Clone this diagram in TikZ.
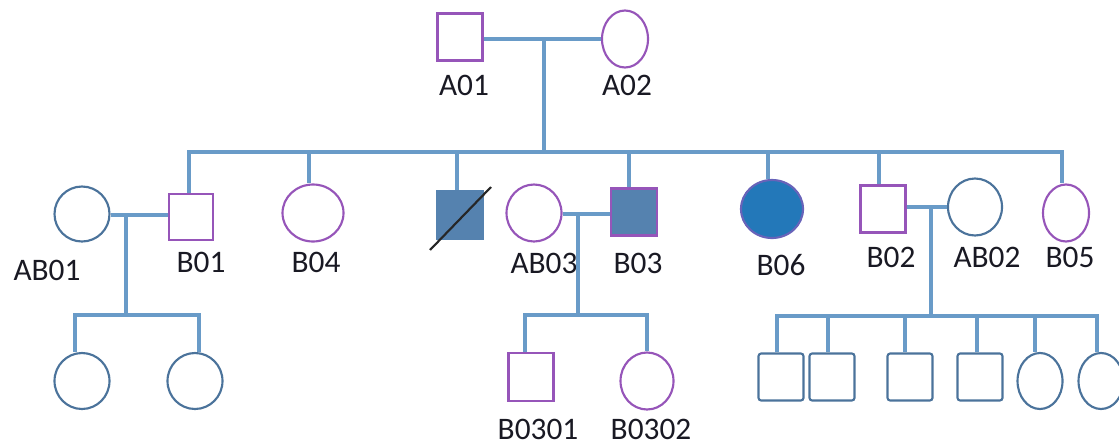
\documentclass[tikz,border=0pt]{standalone}
\usepackage{fontspec}
\setmainfont{Carlito}
\usetikzlibrary{shapes.geometric}
\definecolor{lnc}{RGB}{105,155,200}
\definecolor{pur}{RGB}{150,85,185}
\definecolor{bgr}{RGB}{75,115,155}
\definecolor{dfill}{RGB}{85,130,175}
\definecolor{afill}{RGB}{35,120,185}
\definecolor{txt}{RGB}{25,25,35}
\begin{document}
\begin{tikzpicture}[x=0.75pt,y=-0.75pt,
  ln/.style={draw=lnc,line width=2.3pt},
  sq/.style={draw,rectangle,inner sep=0pt,line width=1.6pt},
  el/.style={draw,ellipse,inner sep=0pt,line width=1.6pt},
  pu/.style={draw=pur},
  bl/.style={draw=bgr},
  lab/.style={text=txt,font=\fontsize{23.5}{27}\selectfont,inner sep=0pt},
  kid/.style={sq,bl,rounded corners=2pt,minimum width=33.75pt,minimum height=35.25pt}]
\useasboundingbox (0,0) rectangle (1119,447);
\clip (0,0) rectangle (1119,447);
% generation I
\node[sq,pu,minimum width=33.75pt,minimum height=35.25pt] (A01) at (460,37) {};
\node[el,pu,minimum width=34.5pt,minimum height=42.75pt] (A02) at (625,39) {};
% generation II
\node[el,bl,minimum width=41.25pt,minimum height=41.25pt] (AB01) at (82,214) {};
\node[sq,pu,minimum width=33pt,minimum height=34.5pt] (B01) at (191,217) {};
\node[el,pu,minimum width=45.75pt,minimum height=42.75pt] (B04) at (313,213) {};
\node[sq,draw=dfill,fill=dfill,minimum width=33.75pt,minimum height=36pt] (D) at (460,215) {};
\node[el,pu,minimum width=41.25pt,minimum height=42.75pt] (AB03) at (534,213) {};
\node[sq,pu,fill=dfill,minimum width=34.5pt,minimum height=35.25pt] (B03) at (634,212) {};
\node[el,draw=pur!60!afill,fill=afill,minimum width=46.5pt,minimum height=43.5pt] (B06) at (772,209) {};
\node[sq,pu,minimum width=33.75pt,minimum height=35.25pt] (B02) at (883,209) {};
\node[el,bl,minimum width=40.5pt,minimum height=42.75pt] (AB02) at (975,207) {};
\node[el,pu,minimum width=34.5pt,minimum height=42.75pt] (B05) at (1066,213) {};
% deceased slash
\coordinate (dsA) at (430,250);
\coordinate (dsB) at (491,187);
\draw[line width=1.6pt,black!85] (dsA) -- (dsB);
% generation III
\node[el,bl,minimum width=41.25pt,minimum height=42pt] (C1) at (82,381) {};
\node[el,bl,minimum width=41.25pt,minimum height=42pt] (C2) at (195,381) {};
\node[sq,pu,minimum width=33.75pt,minimum height=36pt] (B0301) at (531,377) {};
\node[el,pu,minimum width=39.75pt,minimum height=42.75pt] (B0302) at (647,381) {};
\node[kid] (R1) at (781,377) {};
\node[kid] (R2) at (832,377) {};
\node[kid] (R3) at (910,377) {};
\node[kid] (R4) at (980,377) {};
\node[el,bl,minimum width=33.75pt,minimum height=42pt] (R5) at (1040,381) {};
\node[el,bl,minimum width=33.75pt,minimum height=42pt] (R6) at (1101,381) {};
% labels
\node[lab] (lA01) at (464,85) {A01};
\node[lab] (lA02) at (627,85) {A02};
\node[lab] (lAB01) at (47,270) {AB01};
\node[lab] (lB01) at (201,262) {B01};
\node[lab] (lB04) at (316,262) {B04};
\node[lab] (lAB03) at (544,263) {AB03};
\node[lab] (lB03) at (638,263) {B03};
\node[lab] (lB06) at (781,265) {B06};
\node[lab] (lB02) at (891,257) {B02};
\node[lab] (lAB02) at (987,257) {AB02};
\node[lab] (lB05) at (1070,257) {B05};
\node[lab] (lB0301) at (538,429) {B0301};
\node[lab] (lB0302) at (651,429) {B0302};
% connectors: generation I
\coordinate (mA) at (544,39);
\coordinate (sL) at (189,152);
\coordinate (sR) at (1062,152);
\draw[ln] (A01.east |- mA) -- (mA) -- (A02.west |- mA);
\draw[ln] (mA) -- (mA |- sL);
\draw[ln] (sL |- B01.north) -- (sL) -- (sR) -- (sR |- B05.north);
\coordinate (d2) at (309,152);
\coordinate (d3) at (457,152);
\coordinate (d4) at (629,152);
\coordinate (d5) at (768,152);
\coordinate (d6) at (879,152);
\draw[ln] (d2) -- (d2 |- B04.north);
\draw[ln] (d3) -- (d3 |- D.north);
\draw[ln] (d4) -- (d4 |- B03.north);
\draw[ln] (d5) -- (d5 |- B06.north);
\draw[ln] (d6) -- (d6 |- B02.north);
% AB01 x B01
\coordinate (m1) at (126,215);
\coordinate (c1L) at (75,315);
\coordinate (c1R) at (199,315);
\draw[ln] (AB01.east |- m1) -- (B01.west |- m1);
\draw[ln] (m1) -- (m1 |- c1L);
\draw[ln] (c1L |- C1.north) -- (c1L) -- (c1R) -- (c1R |- C2.north);
% AB03 x B03
\coordinate (m3) at (578,214);
\coordinate (c3L) at (525,315);
\coordinate (c3R) at (647,315);
\draw[ln] (AB03.east |- m3) -- (B03.west |- m3);
\draw[ln] (m3) -- (m3 |- c3L);
\draw[ln] (c3L |- B0301.north) -- (c3L) -- (c3R) -- (c3R |- B0302.north);
% B02 x AB02
\coordinate (m2) at (931,207);
\coordinate (c2L) at (777,316);
\coordinate (c2R) at (1097,316);
\draw[ln] (B02.east |- m2) -- (AB02.west |- m2);
\draw[ln] (m2) -- (m2 |- c2L);
\draw[ln] (c2L |- R1.north) -- (c2L) -- (c2R) -- (c2R |- R6.north);
\coordinate (e2) at (828,316);
\coordinate (e3) at (905,316);
\coordinate (e4) at (977,316);
\coordinate (e5) at (1035,316);
\draw[ln] (e2) -- (e2 |- R2.north);
\draw[ln] (e3) -- (e3 |- R3.north);
\draw[ln] (e4) -- (e4 |- R4.north);
\draw[ln] (e5) -- (e5 |- R5.north);
\end{tikzpicture}
\end{document}
